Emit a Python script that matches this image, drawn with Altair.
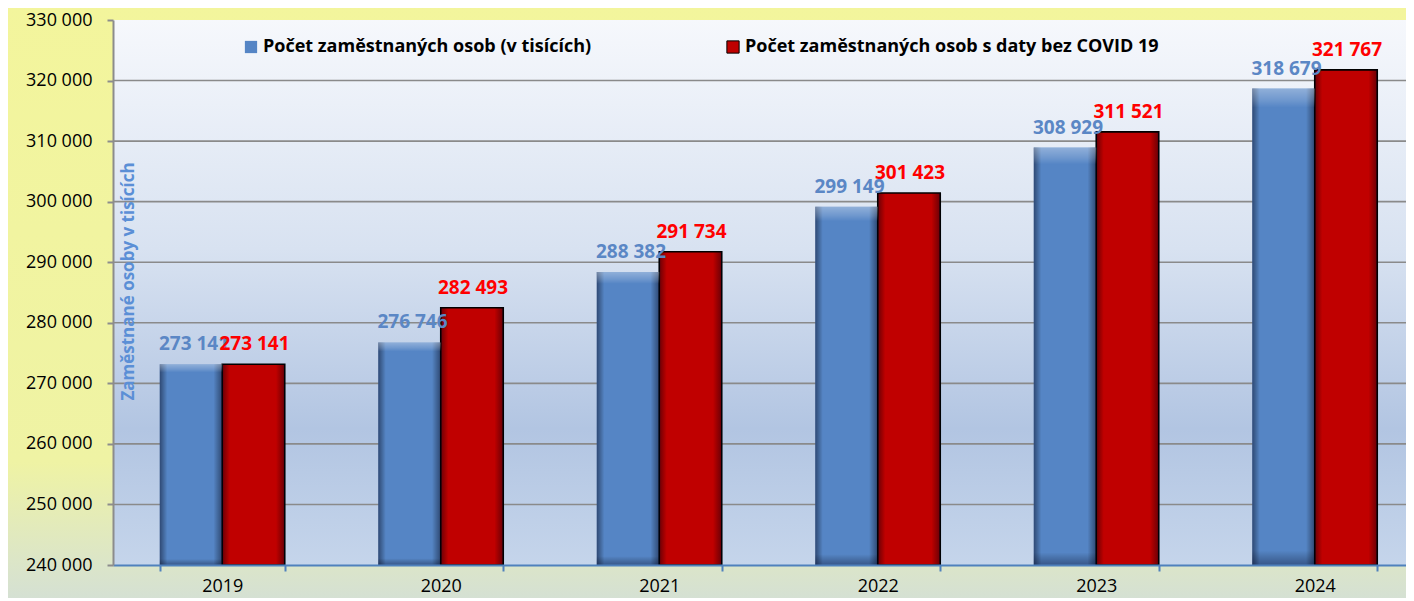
import altair as alt
import pandas as pd

# ---------------- data ----------------
years = ["2019", "2020", "2021", "2022", "2023", "2024"]
series = [
    "Počet zaměstnaných osob (v tisících)",
    "Počet zaměstnaných osob s daty bez COVID 19",
]
employed = [273141, 276746, 288382, 299149, 308929, 318679]
employed_no_covid = [273141, 282493, 291734, 301423, 311521, 321767]
y_ticks = [240000, 250000, 260000, 270000, 280000, 290000, 300000, 310000, 320000, 330000]
y_title = "Zaměstnané osoby v tisících"
title_text = "vzdělání  Základní a bez vzdělání"

# ---------------- layout / style ----------------
FONT = "Open Sans"
W = 1293          # visible plot width
XR = 1311         # x range (plot continues past the right edge)
H = 545
PAD = {"left": 105, "top": 12, "right": 0, "bottom": 33}
BLUE = "#5585c5"
RED = "#c00000"

df = pd.DataFrame({
    "year": years * 2,
    "series": [series[0]] * len(years) + [series[1]] * len(years),
    "value": employed + employed_no_covid,
})
grid_df = pd.DataFrame({"value": y_ticks[1:-1]})
one = pd.DataFrame({"k": [0]})

x_enc = alt.X(
    "year:N", sort=years,
    scale=alt.Scale(range=[0, XR], paddingInner=0.428, paddingOuter=0.214),
    axis=alt.Axis(
        title=None, tickBand="extent", labelAngle=0, zindex=1,
        domainColor="#4f81bd", domainWidth=2,
        tickColor="#4f81bd", tickWidth=2, tickSize=6,
        labelFont=FONT, labelFontSize=18, labelColor="#000000", labelPadding=6,
        grid=False,
    ),
)
y_scale = alt.Scale(domain=[y_ticks[0], y_ticks[-1]], nice=False, zero=False)
y_enc = alt.Y(
    "value:Q", scale=y_scale,
    axis=alt.Axis(
        values=y_ticks, format=",d", title=y_title, zindex=1,
        titleColor="#5b8fd6", titleFont=FONT, titleFontSize=17, titleFontWeight="bold",
        titleAngle=270, titleX=15, titleY=261, titleAlign="center", titleBaseline="middle",
        domainColor="#8c8c8c", domainWidth=2,
        tickColor="#8c8c8c", tickWidth=2, tickSize=6,
        labelFont=FONT, labelFontSize=18, labelColor="#000000", labelPadding=15,
        grid=False,
    ),
)
xoff = alt.XOffset("series:N", sort=series, scale=alt.Scale(domain=series))

# outer chart background (yellow -> greenish)
outer_bg = alt.Chart(one).mark_rect(
    color=alt.LinearGradient(
        gradient="linear", x1=0, x2=0, y1=0, y2=1,
        stops=[
            alt.GradientStop(color="#f3f59c", offset=0),
            alt.GradientStop(color="#eff3a4", offset=0.76),
            alt.GradientStop(color="#dbe5c9", offset=0.93),
            alt.GradientStop(color="#d3dfd6", offset=1),
        ],
    )
).encode(
    x=alt.value(-PAD["left"] - 8), x2=alt.value(XR + 20),
    y=alt.value(-PAD["top"] - 8), y2=alt.value(H + PAD["bottom"] + 10),
)

# plot area background
plot_bg = alt.Chart(one).mark_rect(
    color=alt.LinearGradient(
        gradient="linear", x1=0, x2=0, y1=0, y2=1,
        stops=[
            alt.GradientStop(color="#f6f8fc", offset=0),
            alt.GradientStop(color="#d8e2f1", offset=0.42),
            alt.GradientStop(color="#b2c5e2", offset=0.75),
            alt.GradientStop(color="#c5d5eb", offset=1),
        ],
    )
).encode(x=alt.value(0), x2=alt.value(XR), y=alt.value(0), y2=alt.value(H))

grid = alt.Chart(grid_df).mark_rule(color="#8a8a8a", strokeWidth=1.6).encode(
    y=y_enc, x=alt.value(0), x2=alt.value(XR)
)

title = alt.Chart(one).mark_text(
    text=title_text, font=FONT, fontSize=30, fontWeight="bold",
    color="#ff0000", align="left", baseline="alphabetic",
).encode(x=alt.value(135), y=alt.value(-15))

bars = alt.Chart(df).mark_bar(strokeWidth=1.6).encode(
    x=x_enc, xOffset=xoff, y=y_enc, y2=alt.datum(y_ticks[0]),
    fill=alt.Fill(
        "series:N", sort=series,
        scale=alt.Scale(domain=series, range=[BLUE, RED]),
        legend=alt.Legend(
            title=None, orient="none", legendX=129, legendY=18, direction="horizontal",
            zindex=1,
            symbolType="square", symbolSize=150, symbolStrokeColor="#333333",
            symbolStrokeWidth=1, labelFont=FONT, labelFontSize=18, labelFontWeight="bold",
            labelColor="#000000", labelLimit=800, columnPadding=132, labelOffset=3,
        ),
    ),
    stroke=alt.Stroke("series:N", scale=alt.Scale(domain=series, range=["transparent", "#000000"]), legend=None),
)

bevel = alt.Chart(df).mark_bar(
    color=alt.LinearGradient(
        gradient="linear", x1=0, x2=1, y1=0, y2=0,
        stops=[
            alt.GradientStop(color="rgba(0,0,20,0.45)", offset=0),
            alt.GradientStop(color="rgba(0,0,0,0.0)", offset=0.12),
            alt.GradientStop(color="rgba(0,0,0,0.0)", offset=0.86),
            alt.GradientStop(color="rgba(0,0,20,0.45)", offset=1),
        ],
    )
).encode(x=x_enc, xOffset=xoff, y=y_enc, y2=alt.datum(y_ticks[0]))

top_light = alt.Chart(df).transform_filter(alt.datum.series == series[0]).mark_bar(
    color=alt.LinearGradient(
        gradient="linear", x1=0, x2=0, y1=0, y2=1,
        stops=[
            alt.GradientStop(color="rgba(255,255,255,0.35)", offset=0),
            alt.GradientStop(color="rgba(255,255,255,0.15)", offset=0.025),
            alt.GradientStop(color="rgba(255,255,255,0.0)", offset=0.04),
            alt.GradientStop(color="rgba(0,0,0,0.0)", offset=0.97),
            alt.GradientStop(color="rgba(0,0,30,0.35)", offset=1),
        ],
    )
).encode(x=x_enc, xOffset=xoff, y=y_enc, y2=alt.datum(y_ticks[0]))

labels_blue = alt.Chart(df).transform_filter(alt.datum.series == series[0]).mark_text(
    font=FONT, fontSize=19, fontWeight="bold", color="#5b87c5",
    baseline="alphabetic", align="center", dy=-14, dx=3,
).encode(x=x_enc, xOffset=xoff, y=y_enc, text=alt.Text("value:Q", format=",d"))

labels_red = alt.Chart(df).transform_filter(alt.datum.series == series[1]).mark_text(
    font=FONT, fontSize=19, fontWeight="bold", color="#ff0000",
    baseline="alphabetic", align="center", dy=-14, dx=1,
).encode(x=x_enc, xOffset=xoff, y=y_enc, text=alt.Text("value:Q", format=",d"))

chart = alt.layer(
    outer_bg, plot_bg, grid, title, bars, bevel, top_light, labels_blue, labels_red
).properties(
    width=W, height=H, padding=PAD,
    autosize=alt.AutoSizeParams(type="none"),
    background="#f3f59c",
).configure(
    locale={"number": {"decimal": ",", "thousands": " ", "grouping": [3], "currency": ["", ""]}},
).configure_view(stroke=None)

chart.save("out.html", embed_options={"renderer": "svg", "actions": False})
